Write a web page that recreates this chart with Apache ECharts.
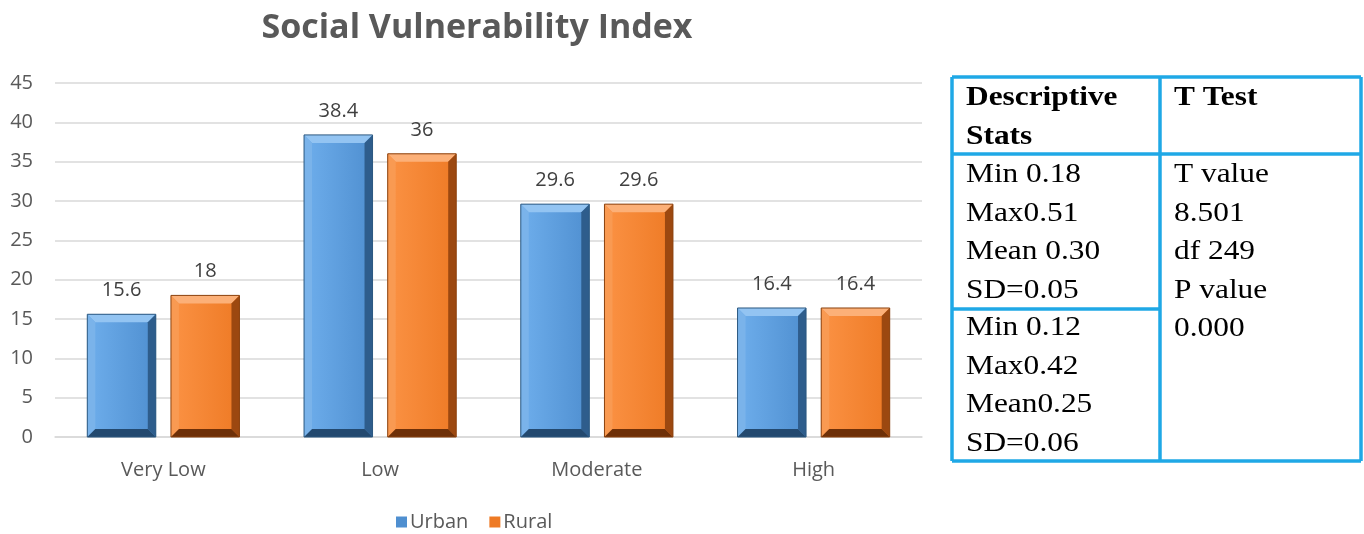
<!DOCTYPE html>
<html>
<head>
<meta charset="utf-8">
<script src="https://cdn.jsdelivr.net/npm/echarts@6/dist/echarts.min.js"></script>
<style>
  html, body { margin: 0; padding: 0; background: #ffffff; }
  #chart { width: 1364px; height: 534px; }
</style>
</head>
<body>
<div id="chart"></div>
<script>
// Social Vulnerability Index by level, urban vs rural (%)
const categories = ['Very Low', 'Low', 'Moderate', 'High'];
const urbanValues = [15.6, 38.4, 29.6, 16.4];
const ruralValues = [18, 36, 29.6, 16.4];
const seriesNames = ['Urban', 'Rural'];

// Statistics table text
const statsHeader = ['Descriptive', 'Stats'];
const testHeader = ['T Test'];
const urbanStats = ['Min 0.18', 'Max0.51', 'Mean 0.30', 'SD=0.05'];
const ruralStats = ['Min 0.12', 'Max0.42', 'Mean0.25', 'SD=0.06'];
const testStats = ['T value', '8.501', 'df 249', 'P value', '0.000'];

// Bevel palettes: [face-left, face-right, top, left, right, bottom, outline]
const palettes = [
  ['#6eaeec', '#4f8fd0', '#93c4f2', '#7ab3ea', '#2e5d8c', '#23496f', '#2c5880'],
  ['#fb9244', '#ee7a25', '#fcb078', '#f99a52', '#9c4810', '#6e3008', '#8a4210']
];

const uiFont = 'Open Sans';
const chart = echarts.init(document.getElementById('chart'));

function bevelRenderer(seriesIdx) {
  return function (params, api) {
    const cat = api.value(0);
    const val = api.value(1);
    const catW = api.size([1, 0])[0];
    const barW = catW * 0.316;
    const gap = catW * 0.07;
    const offset = (seriesIdx === 0 ? -1 : 1) * (barW + gap) / 2;
    const topPt = api.coord([cat, val]);
    const basePt = api.coord([cat, 0]);
    const cx = topPt[0] + offset;
    const x0 = cx - barW / 2, x1 = cx + barW / 2;
    const y0 = topPt[1], y1 = basePt[1];
    const b = Math.min(8, (y1 - y0) / 2);
    const p = palettes[seriesIdx];
    return {
      type: 'group',
      children: [
        { type: 'rect', shape: { x: x0, y: y0, width: barW, height: y1 - y0 },
          style: { fill: {
            type: 'linear', x: 0, y: 0, x2: 1, y2: 0,
            colorStops: [{ offset: 0, color: p[0] }, { offset: 1, color: p[1] }] } } },
        { type: 'polygon', shape: { points: [[x0, y0], [x1, y0], [x1 - b, y0 + b], [x0 + b, y0 + b]] },
          style: { fill: p[2] } },
        { type: 'polygon', shape: { points: [[x0, y0], [x0 + b, y0 + b], [x0 + b, y1 - b], [x0, y1]] },
          style: { fill: p[3] } },
        { type: 'polygon', shape: { points: [[x1, y0], [x1, y1], [x1 - b, y1 - b], [x1 - b, y0 + b]] },
          style: { fill: p[4] } },
        { type: 'polygon', shape: { points: [[x0, y1], [x0 + b, y1 - b], [x1 - b, y1 - b], [x1, y1]] },
          style: { fill: p[5] } },
        { type: 'rect', shape: { x: x0, y: y0, width: barW, height: y1 - y0 },
          style: { fill: null, stroke: p[6], lineWidth: 1 } },
        { type: 'text', x: cx, y: y0 - 24,
          style: { text: String(val), fill: '#404040', font: '20px "' + uiFont + '"',
                   textAlign: 'center', textVerticalAlign: 'middle' } }
      ]
    };
  };
}

// Table geometry and text
const tbl = { x0: 952, x1: 1361, y0: 77, y1: 461, colX: 1160, headY: 154, splitY: 309 };
const border = '#1fa8e6';
const serifFont = 'Liberation Serif';
const lineH = 38.5;
const tableGraphics = [];
function line(x1, y1, x2, y2) {
  tableGraphics.push({ type: 'line', shape: { x1, y1, x2, y2 },
    style: { stroke: border, lineWidth: 3.5 }, z: 10 });
}
line(tbl.x0, tbl.y0, tbl.x1, tbl.y0);
line(tbl.x0, tbl.y1, tbl.x1, tbl.y1);
line(tbl.x0, tbl.y0, tbl.x0, tbl.y1);
line(tbl.x1, tbl.y0, tbl.x1, tbl.y1);
line(tbl.colX, tbl.y0, tbl.colX, tbl.y1);
line(tbl.x0, tbl.headY, tbl.x1, tbl.headY);
line(tbl.x0, tbl.splitY, tbl.colX, tbl.splitY);
function textLines(lines, x, yFirst, bold) {
  lines.forEach((t, i) => {
    tableGraphics.push({ type: 'text', x: x, y: yFirst + i * lineH, z: 10,
      scaleX: 1.12,
      style: { text: t, fill: '#000000',
               font: (bold ? 'bold ' : '') + '28px "' + serifFont + '"',
               textAlign: 'left', textVerticalAlign: 'middle' } });
  });
}
textLines(statsHeader, 966, 98, true);
textLines(testHeader, 1174, 98, true);
textLines(urbanStats, 966, 175, false);
textLines(ruralStats, 966, 328, false);
textLines(testStats, 1174, 175, false);

chart.setOption({
  animation: false,
  backgroundColor: '#ffffff',
  title: {
    text: 'Social Vulnerability Index',
    left: 472, top: 6, textAlign: 'center',
    textStyle: { color: '#595959', fontFamily: uiFont, fontWeight: 'bold', fontSize: 34 }
  },
  legend: {
    data: seriesNames,
    left: 391, top: 507,
    itemWidth: 11, itemHeight: 11, itemGap: 21,
    icon: 'rect',
    textStyle: { color: '#595959', fontFamily: uiFont, fontSize: 20, padding: [0, 0, 0, -2] }
  },
  grid: { left: 55, right: 442, top: 83, bottom: 97, containLabel: false },
  xAxis: {
    type: 'category',
    data: categories,
    axisTick: { show: false },
    axisLine: { lineStyle: { color: '#d9d9d9', width: 1.5 } },
    axisLabel: { color: '#595959', fontFamily: uiFont, fontSize: 20, margin: 23 }
  },
  yAxis: {
    type: 'value',
    min: 0, max: 45, interval: 5,
    axisLine: { show: false },
    axisTick: { show: false },
    splitLine: { lineStyle: { color: '#d9d9d9', width: 1.5 } },
    axisLabel: { color: '#595959', fontFamily: uiFont, fontSize: 20, margin: 22 }
  },
  series: [
    { name: seriesNames[0], type: 'custom', renderItem: bevelRenderer(0),
      itemStyle: { color: '#4f8fd0' },
      encode: { x: 0, y: 1 },
      data: urbanValues.map((v, i) => [i, v]) },
    { name: seriesNames[1], type: 'custom', renderItem: bevelRenderer(1),
      itemStyle: { color: '#ee7a25' },
      encode: { x: 0, y: 1 },
      data: ruralValues.map((v, i) => [i, v]) }
  ],
  graphic: tableGraphics
});
</script>
</body>
</html>
